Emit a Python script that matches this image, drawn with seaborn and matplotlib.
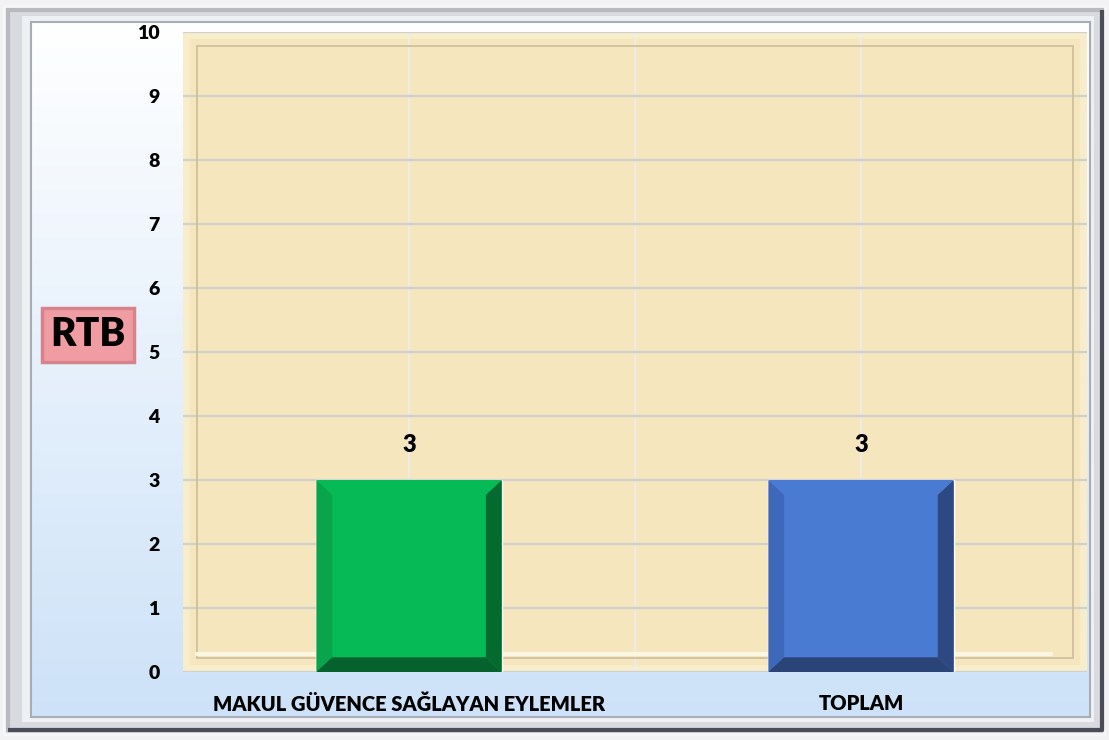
import matplotlib
matplotlib.use("Agg")
import matplotlib.pyplot as plt
import matplotlib.patches as mpatches
import numpy as np
import pandas as pd
import seaborn as sns

categorias = ["MAKUL GÜVENCE SAĞLAYAN EYLEMLER", "TOPLAM"]
valores = [3, 3]
cores = ["#06BA55", "#4A7BD2"]
cores_escuras = ["#05622C", "#2B4478"]
cores_lado = ["#09A44B", "#3E69BA"]
rotulo_eixo = "RTB"
ticks_y = list(range(0, 11))

sns.set_theme(style="white")
plt.rcParams["font.family"] = ["Lato", "DejaVu Sans"]

df = pd.DataFrame({"categoria": categorias, "valor": valores})

fig = plt.figure(figsize=(11.09, 7.40), dpi=100)
fig.patch.set_facecolor("#F2F2F4")

# fundo / moldura (coordenadas em pixels da figura)
bg = fig.add_axes([0, 0, 1, 1], zorder=-10)
bg.set_xlim(0, 1109)
bg.set_ylim(0, 740)
bg.axis("off")
bg.add_patch(mpatches.Rectangle((4, 6), 1100, 728, fc="#D9DADF", ec="#F7F7F9", lw=2))
bg.add_patch(mpatches.Rectangle((8, 10), 1094, 720, fc="none", ec="#B8BAC0", lw=3))
bg.plot([8, 1102, 1102], [10, 10, 730], color="#4A4D55", lw=3, solid_capstyle="butt")
bg.add_patch(mpatches.Rectangle((22, 18), 1072, 706, fc="#EEF0F4", ec="none"))
grad = np.linspace(1, 0, 256).reshape(-1, 1)
cmap_fundo = matplotlib.colors.LinearSegmentedColormap.from_list("f", ["#CDE2F8", "#FFFFFF"])
bg.imshow(grad, cmap=cmap_fundo, extent=(31, 1090, 23, 718), aspect="auto", origin="upper", zorder=2)
bg.add_patch(mpatches.Rectangle((31, 23), 1059, 695, fc="none", ec="#A8ACB4", lw=1.5, zorder=3))

ax = fig.add_axes([183 / 1109, 68 / 740, 904 / 1109, 640 / 740])
ax.set_facecolor("#F5E6BE")

sns.barplot(data=df, x="categoria", y="valor", hue="categoria", palette=cores,
            width=0.41, legend=False, ax=ax, zorder=3, saturation=1)

ax.set_ylim(0, 10)
ax.set_xlim(-0.5, 1.5)
ax.set_yticks(ticks_y)
ax.set_xticks([0, 1])
ax.set_xticks([0.5], minor=True)
ax.grid(True, axis="y", color="#CFCFCF", lw=1.6, zorder=1)
ax.grid(True, axis="x", which="both", color="#ECECEC", lw=1.4, zorder=1)
ax.set_axisbelow(True)
for s in ax.spines.values():
    s.set_visible(False)

# moldura interna do pergaminho
ax.add_patch(mpatches.Rectangle((0, 0), 1, 1, transform=ax.transAxes, fc="none",
                                ec="#F8EDCB", lw=10, zorder=0.5))
ax.add_patch(mpatches.Rectangle((0.016, 0.022), 0.968, 0.956, transform=ax.transAxes,
                                fc="none", ec="#CDBD9C", lw=1.2, zorder=0.6))
ax.plot([0.016, 0.96], [0.028, 0.028], transform=ax.transAxes, color="#FBF6E2",
        lw=3, zorder=0.7)

# chanfro das barras
for i, p in enumerate(ax.patches[:len(valores)]):
    x0, y0 = p.get_x(), p.get_y()
    w, h = p.get_width(), p.get_height()
    bx, by = 0.035, 0.23
    x1, y1 = x0 + w, y0 + h
    ax.add_patch(mpatches.Polygon([(x0, y0), (x0 + bx, y0 + by), (x0 + bx, y1 - by), (x0, y1)],
                                  fc=cores_lado[i], ec="none", zorder=4))
    ax.add_patch(mpatches.Polygon([(x1, y0), (x1 - bx, y0 + by), (x1 - bx, y1 - by), (x1, y1)],
                                  fc=cores_escuras[i], ec="none", zorder=4, alpha=0.9))
    ax.add_patch(mpatches.Polygon([(x0, y0), (x0 + bx, y0 + by), (x1 - bx, y0 + by), (x1, y0)],
                                  fc=cores_escuras[i], ec="none", zorder=4))
    ax.add_patch(mpatches.Polygon([(x0, y1), (x0 + bx, y1 - by), (x1 - bx, y1 - by), (x1, y1)],
                                  fc=cores[i], ec="none", zorder=4))
    ax.annotate(str(valores[i]), (x0 + w / 2, y1), xytext=(0, 25), textcoords="offset points",
                ha="center", va="center", fontsize=17, fontweight="heavy", color="black")

ax.tick_params(axis="y", length=0, pad=17, labelsize=14)
ax.tick_params(axis="x", which="both", length=0, pad=16, labelsize=14.5)
for t in ax.get_yticklabels() + ax.get_xticklabels():
    t.set_fontweight("heavy")
    t.set_color("black")

ax.set_xlabel("")
ax.set_ylabel(rotulo_eixo, rotation=0, fontsize=28, fontweight="heavy", color="black",
              va="center", ha="center",
              bbox=dict(boxstyle="square,pad=0.22", fc="#F09CA3", ec="#D7838B", lw=2.5))
ax.yaxis.set_label_coords(-0.105, 0.527)

plt.savefig("out.png", dpi=100, facecolor=fig.get_facecolor())
